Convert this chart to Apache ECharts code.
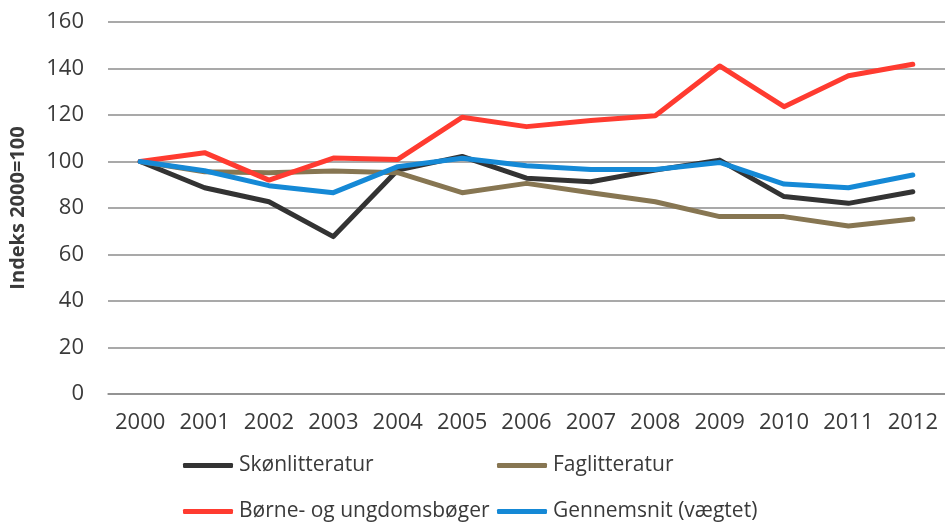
<!DOCTYPE html>
<html>
<head>
<meta charset="utf-8">
<script src="https://cdn.jsdelivr.net/npm/echarts@6/dist/echarts.min.js"></script>
<style>html,body{margin:0;padding:0;background:#fff}#c{width:945px;height:524px}</style>
</head>
<body>
<div id="c"></div>
<script>
const years = ['2000','2001','2002','2003','2004','2005','2006','2007','2008','2009','2010','2011','2012'];
const skonlitteratur = [100, 88.7, 82.7, 67.7, 96.3, 102.2, 92.8, 91.3, 96.3, 100.6, 84.9, 82.0, 87.0];
const faglitteratur = [100, 95.6, 95.2, 95.9, 95.2, 86.6, 90.6, 86.6, 82.7, 76.3, 76.3, 72.3, 75.3];
const borne = [100, 103.8, 92.0, 101.5, 100.9, 119.0, 115.0, 117.6, 119.7, 141.1, 123.6, 136.9, 141.8];
const gennemsnit = [100, 96.0, 89.6, 86.6, 97.8, 101.4, 98.2, 96.6, 96.6, 99.6, 90.3, 88.7, 94.2];
const seriesNames = ['Skønlitteratur', 'Faglitteratur', 'Børne- og ungdomsbøger', 'Gennemsnit (vægtet)'];
const yTicks = [0, 20, 40, 60, 80, 100, 120, 140, 160];
const yTitle = 'Indeks 2000=100';

const colors = ['#333333', '#877652', '#FF3B30', '#1589D6'];
const dataSets = [skonlitteratur, faglitteratur, borne, gennemsnit];
const font = 'Open Sans';
const txt = '#3a3a3a';

const legendPos = [
  {left: 183, top: 455},
  {left: 497, top: 455},
  {left: 183, top: 501},
  {left: 497, top: 501}
];

const chart = echarts.init(document.getElementById('c'), null, {renderer: 'canvas'});
chart.setOption({
  animation: false,
  backgroundColor: '#fff',
  color: colors,
  grid: {left: 104, top: 22, width: 850, height: 372, containLabel: false},
  legend: seriesNames.map((n, i) => ({
    data: [n],
    left: legendPos[i].left,
    top: legendPos[i].top,
    padding: 0,
    itemWidth: 50,
    itemHeight: 5,
    itemGap: 0,
    icon: 'roundRect',
    textStyle: {fontFamily: font, fontSize: 21, color: txt, padding: [0, 0, 0, 1]}
  })),
  xAxis: {
    type: 'category',
    data: years,
    boundaryGap: true,
    axisLine: {show: true, lineStyle: {color: '#8c8c8c', width: 1.5}},
    axisTick: {show: false},
    axisLabel: {fontFamily: font, fontSize: 22, color: txt, margin: 18, interval: 0, hideOverlap: false}
  },
  yAxis: {
    type: 'value',
    min: yTicks[0],
    max: yTicks[yTicks.length - 1],
    interval: 20,
    name: yTitle,
    nameLocation: 'middle',
    nameRotate: 90,
    nameGap: 80,
    nameTextStyle: {fontFamily: font, fontSize: 20, fontWeight: 'bold', color: txt},
    axisLine: {show: false},
    axisTick: {show: false},
    splitLine: {lineStyle: {color: '#8c8c8c', width: 1.5}},
    axisLabel: {fontFamily: font, fontSize: 22, color: txt, margin: 24}
  },
  series: seriesNames.map((n, i) => ({
    name: n,
    type: 'line',
    data: dataSets[i],
    symbol: 'none',
    lineStyle: {width: 5, color: colors[i], cap: 'round', join: 'round'},
    itemStyle: {color: colors[i]},
    z: 2 + i
  }))
});
</script>
</body>
</html>
